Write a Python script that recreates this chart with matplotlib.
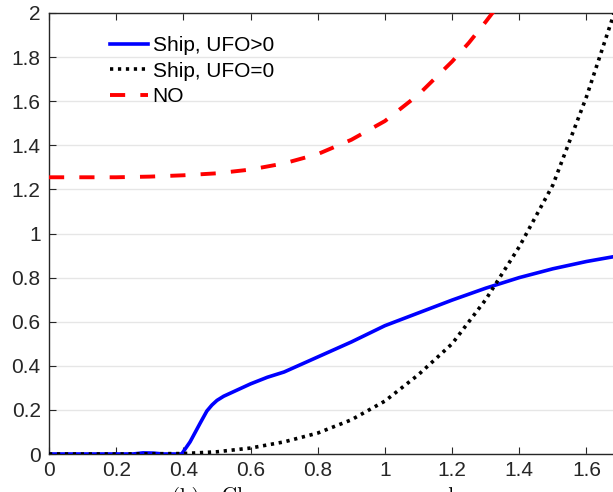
import numpy as np
import matplotlib
matplotlib.use('Agg')
import matplotlib.pyplot as plt
from matplotlib.ticker import FormatStrFormatter

# Ship, UFO>0 (blue solid)
x_pos = [0, 0.15, 0.25, 0.28, 0.31, 0.34, 0.395, 0.42, 0.45, 0.47, 0.485, 0.5, 0.52,
         0.55, 0.6, 0.65, 0.7, 0.8, 0.9, 1.0, 1.1, 1.2, 1.3, 1.4, 1.5, 1.6, 1.7]
y_pos = [0, 0, 0, 0.005, 0.004, 0, 0, 0.055, 0.14, 0.195, 0.222, 0.243, 0.262,
         0.283, 0.318, 0.348, 0.372, 0.44, 0.508, 0.582, 0.64, 0.698, 0.752, 0.8, 0.84, 0.873, 0.9]

# Ship, UFO=0 (black dotted)
x_zero = [0, 0.2, 0.4, 0.5, 0.6, 0.7, 0.8, 0.9, 1.0, 1.1, 1.2, 1.3, 1.4, 1.5, 1.6, 1.7]
y_zero = [0, 0, 0.002, 0.01, 0.027, 0.055, 0.095, 0.155, 0.24, 0.36, 0.5, 0.7, 0.94, 1.22, 1.62, 2.08]

# NO (red dashed)
x_no = [0, 0.2, 0.3, 0.4, 0.5, 0.6, 0.7, 0.8, 0.9, 1.0, 1.1, 1.2, 1.25, 1.3, 1.33]
y_no = [1.255, 1.255, 1.258, 1.264, 1.273, 1.29, 1.318, 1.36, 1.425, 1.51, 1.63, 1.78, 1.865, 1.96, 2.02]

x_ticks = [0, 0.2, 0.4, 0.6, 0.8, 1, 1.2, 1.4, 1.6]
y_ticks = [0, 0.2, 0.4, 0.6, 0.8, 1, 1.2, 1.4, 1.6, 1.8, 2]

plt.rcParams['font.family'] = ['Liberation Sans', 'DejaVu Sans']
dark = '#262626'

fig = plt.figure(figsize=(6.13, 4.92), dpi=100)
ax = fig.add_axes([49 / 613, 38 / 492, 564 / 613, 441 / 492])

ax.plot(x_pos, y_pos, color='#0000ff', lw=2.6, label='Ship, UFO>0', zorder=3)
ax.plot(x_zero, y_zero, color='black', lw=2.6, linestyle=(0, (0.9, 1.3)),
        dash_capstyle='butt', label='Ship, UFO=0', zorder=4)
ax.plot(x_no, y_no, color='#ff0000', lw=2.8, linestyle=(0, (3.9, 3.9)),
        label='NO', zorder=3)

ax.set_xlim(0, 1.679)
ax.set_ylim(0, 2)
ax.set_xticks(x_ticks)
ax.set_yticks(y_ticks)
ax.xaxis.set_major_formatter(FormatStrFormatter('%g'))
ax.yaxis.set_major_formatter(FormatStrFormatter('%g'))

ax.yaxis.grid(True, color='#e6e6e6', lw=1.0)
ax.set_axisbelow(True)
ax.spines['right'].set_visible(False)
for s in ['left', 'bottom', 'top']:
    ax.spines[s].set_color(dark)
    ax.spines[s].set_linewidth(1.0)
ax.tick_params(direction='in', length=5, width=0.8, colors=dark,
               labelsize=15, top=True, right=False)
ax.tick_params(axis='x', pad=5)
ax.tick_params(axis='y', pad=6)

ax.legend(loc='upper left', bbox_to_anchor=(0.108, 0.948), frameon=False,
          fontsize=15, handlelength=1.85, handletextpad=0.2,
          labelspacing=0.32, borderpad=0, borderaxespad=0)

# caption of the sub-figure, cut off at the bottom edge as in the source
fig.text(172 / 613, 1 - 487 / 492, '(b)', family='cmr10', fontsize=15, va='top', color='black')
fig.text(222 / 613, 1 - 487 / 492, 'Change over many rounds', family='cmr10', fontsize=15,
         va='top', color='black')

fig.savefig('out.png', dpi=100)
